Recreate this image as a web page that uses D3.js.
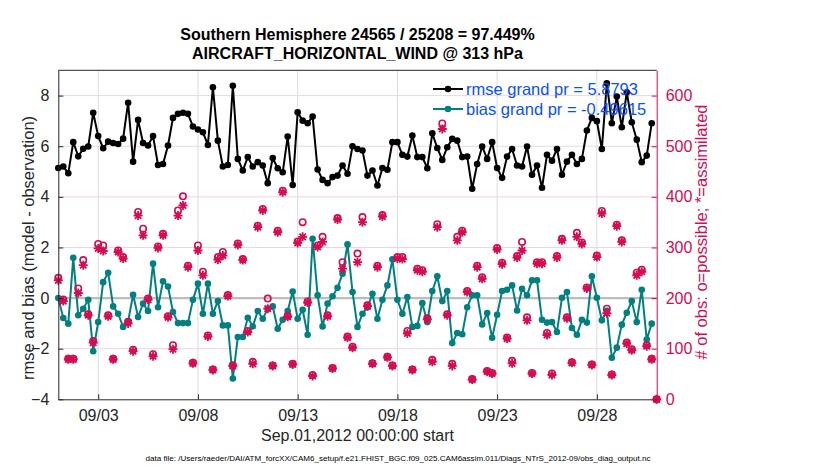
<!DOCTYPE html>
<html>
<head>
<meta charset="utf-8">
<script src="https://cdn.jsdelivr.net/npm/d3@7"></script>
<style>
  body { margin: 0; background: #fff; }
  text { font-family: "Liberation Sans", Arial, Helvetica, sans-serif; }
</style>
</head>
<body>
<div id="chart"></div>
<script>
// values, one per 6-hour bin starting Sep 01 00Z
const rmse = [
  5.14, 5.2, 4.93, 6.16, 5.6, 5.9, 5.99, 7.32, 6.4, 5.92, 6.18, 6.13, 6.09, 6.3, 7.72, 5.39,
  7.04, 6.13, 6.03, 6.4, 5.26, 5.3, 6.03, 7.12, 7.28, 7.32, 7.28, 6.78, 6.66, 6.55, 6.05, 8.33,
  6.22, 5.2, 5.26, 8.39, 5.5, 5.04, 5.57, 5.2, 5.37, 5.24, 4.54, 5.53, 5.13, 4.97, 6.38, 4.47,
  7.34, 7.01, 6.91, 7.17, 5.08, 4.67, 4.54, 4.78, 4.84, 5.24, 4.91, 6.0, 5.89, 5.83,
  4.84, 5.04, 4.45, 5.14, 5.07, 6.16, 6.16, 5.66, 5.59, 6.42, 5.57, 5.57, 5.13, 6.51, 5.93, 5.46,
  5.96, 6.29, 6.22, 5.57, 5.59, 4.32, 5.3, 5.99, 5.5, 6.16, 5.14, 4.75, 5.59, 5.89,
  5.24, 5.2, 5.99, 4.87, 5.24, 4.36, 5.66, 5.43, 5.89, 4.87, 5.39, 5.66, 5.3, 5.5, 6.62, 7.12,
  6.99, 5.89, 8.49, 6.91, 7.96, 6.75, 8.13, 6.95, 6.26, 5.37, 5.63, 6.91, null
];
const bias = [
  0.0, -0.79, -1.01, 1.59, -0.68, -0.42, -0.07, -2.1, -0.95, 0.63, 1.0, -0.33, -0.62, -1.14, -0.92, 0.13,
  -0.75, -0.22, -0.51, 1.36, -0.36, 0.66, 0.46, -0.55, -0.99, -0.99, -0.99, -0.07, 0.57, -0.62, 0.57, -0.62,
  -0.12, -1.08, -1.08, -3.18, -1.54, -1.54, -0.78, -1.12, -0.51, -0.82, -0.42, -0.33, -1.21, -0.86, -0.51, 0.26,
  -0.82, -0.46, -1.45, 2.34, 0.11, -1.12, -0.22, 0.07, 0.41, 0.96, 2.12, 0.24, -1.14, -0.62,
  -0.36, 0.17, -0.82, -0.07, 0.5, 1.53, -0.07, -0.62, 0.04, -1.14, -1.1, -0.2, -0.95, 0.28, 0.86, -0.12,
  0.28, -1.78, -1.38, -1.43, -0.36, 0.11, 0.11, -1.04, -0.59, -1.57, -0.66, 0.28, 0.33, 0.5,
  -0.49, 0.37, 0.11, 0.7, 0.7, -0.86, -0.97, -0.95, -1.34, 0.01, 0.24, -1.18, -1.45, -0.86, -0.97, 0.86,
  0.01, -0.88, -0.5, -2.36, -1.96, -1.05, -0.58, -0.12, -0.95, 0.33, -1.64, -1.01, null
];
const obsPossible = [
  240, 197, 80, 80, 219, 275, 168, 115, 307, 304, 166, 80, 294, 281, 153, 98,
  370, 337, 199, 89, 302, 327, 164, 107, 373, 401, 264, 72, 304, 252, 126, 59,
  281, 291, 206, 67, 308, 277, 135, 74, 343, 376, 199, 67, 333, 412, 165, 70,
  312, 350, 193, 48, 304, 321, 166, 62, 358, 271, 124, 104, 288, 360,
  186, 71, 264, 364, 84, 67, 281, 281, 135, 59, 258, 255, 160, 78, 346, 545,
  168, 70, 321, 333, 214, 40, 264, 241, 56, 52, 299, 270, 122, 76,
  283, 311, 162, 52, 271, 271, 131, 51, 283, 317, 162, 73, 329, 310, 221, 69,
  284, 372, 179, 49, 345, 314, 112, 99, 250, 256, 107, 80, 0
];
const obsAssim = [
  235, 194, 79, 79, 210, 265, 166, 112, 298, 293, 164, 79, 291, 278, 150, 95,
  363, 324, 197, 85, 299, 324, 162, 99, 363, 383, 261, 71, 294, 245, 124, 58,
  276, 284, 204, 66, 305, 275, 133, 70, 340, 373, 179, 66, 330, 409, 163, 69,
  309, 321, 191, 46, 301, 311, 164, 61, 355, 258, 122, 102, 271, 350,
  184, 70, 261, 361, 83, 66, 278, 277, 130, 58, 255, 252, 158, 74, 340, 534,
  166, 66, 314, 330, 212, 39, 261, 238, 55, 51, 296, 267, 120, 71,
  280, 294, 156, 51, 268, 268, 127, 48, 280, 314, 160, 72, 321, 307, 219, 68,
  281, 367, 170, 48, 342, 311, 110, 97, 245, 252, 105, 79, 0
];

const titleLines = [
  "Southern Hemisphere 24565 / 25208 = 97.449%",
  "AIRCRAFT_HORIZONTAL_WIND @ 313 hPa"
];
const dateTicks = ["2012-09-03", "2012-09-08", "2012-09-13", "2012-09-18", "2012-09-23", "2012-09-28"];
const leftTicks = [-4, -2, 0, 2, 4, 6, 8];
const rightTicks = [0, 100, 200, 300, 400, 500, 600];
const legendLabels = ["rmse grand pr = 5.8793", "bias grand pr = -0.49615"];

const pink = "#d60b52", teal = "#008080", legendBlue = "#0a50ff";

const W = 830, H = 470;
const plotL = 58.3, plotR = 656.7, plotT = 70.3, plotB = 399.3;

const svg = d3.select("#chart").append("svg")
    .attr("width", W)
    .attr("height", H);

const t0 = Date.UTC(2012, 8, 1);
const binMs = 6 * 3600 * 1000;
const times = obsPossible.map((d, i) => new Date(t0 + i * binMs));

const x = d3.scaleUtc()
    .domain([new Date(t0), new Date(Date.UTC(2012, 9, 1))])
    .range([plotL, plotR]);
const yL = d3.scaleLinear().domain([-4, 9]).range([plotB, plotT]);
const yR = d3.scaleLinear().domain([0, 650]).range([plotB, plotT]);

// grid lines
const tickDates = dateTicks.map(s => new Date(s + "T00:00:00Z"));
svg.append("g").selectAll("line")
    .data(tickDates)
    .join("line")
    .attr("x1", d => x(d)).attr("x2", d => x(d))
    .attr("y1", plotT).attr("y2", plotB)
    .attr("stroke", "#dcdcdc").attr("stroke-width", 1);

svg.append("g").selectAll("line")
    .data(rightTicks.filter(d => d > 0))
    .join("line")
    .attr("x1", plotL).attr("x2", plotR)
    .attr("y1", d => yR(d)).attr("y2", d => yR(d))
    .attr("stroke", "#f2d3df").attr("stroke-width", 1);

// zero line for the bias
svg.append("line")
    .attr("x1", plotL).attr("x2", plotR)
    .attr("y1", yL(0)).attr("y2", yL(0))
    .attr("stroke", "#bdbdbd").attr("stroke-width", 2.2);

// rmse and bias lines
const series = [
    { values: rmse, color: "#000" },
    { values: bias, color: teal }
];

series.forEach(s => {
    const pts = s.values.map((v, i) => ({ t: times[i], v })).filter(d => d.v !== null);
    const line = d3.line()
        .x(d => x(d.t))
        .y(d => yL(d.v));
    svg.append("path")
        .datum(pts)
        .attr("fill", "none")
        .attr("stroke", s.color)
        .attr("stroke-width", 2)
        .attr("d", line);
    svg.append("g").selectAll("circle")
        .data(pts)
        .join("circle")
        .attr("cx", d => x(d.t))
        .attr("cy", d => yL(d.v))
        .attr("r", 3.3)
        .attr("fill", s.color);
});

// obs counts: o = possible, * = assimilated
svg.append("g").selectAll("circle")
    .data(obsPossible.map((v, i) => ({ t: times[i], v })))
    .join("circle")
    .attr("cx", d => x(d.t))
    .attr("cy", d => yR(d.v))
    .attr("r", 3.2)
    .attr("fill", "none")
    .attr("stroke", pink)
    .attr("stroke-width", 1.6);

const star = "M-4.5,0H4.5M0,-4.5V4.5M-3.2,-3.2L3.2,3.2M-3.2,3.2L3.2,-3.2";
svg.append("g").selectAll("path")
    .data(obsAssim.map((v, i) => ({ t: times[i], v })))
    .join("path")
    .attr("transform", d => `translate(${x(d.t)},${yR(d.v)})`)
    .attr("d", star)
    .attr("stroke", pink)
    .attr("stroke-width", 1.8)
    .attr("fill", "none");

// axes
const axisBottom = svg.append("g")
    .attr("transform", `translate(0,${plotB})`)
    .call(d3.axisBottom(x).tickValues(tickDates).tickFormat(d3.utcFormat("%m/%d")).tickSizeInner(-5).tickSizeOuter(0).tickPadding(10));
axisBottom.select(".domain").attr("stroke", "#262626");
axisBottom.selectAll(".tick line").attr("stroke", "#262626");
axisBottom.selectAll("text").attr("font-size", 16).attr("fill", "#262626")
    .attr("font-family", "Liberation Sans, Arial, sans-serif");

const axisLeft = svg.append("g")
    .attr("transform", `translate(${plotL},0)`)
    .call(d3.axisLeft(yL).tickValues(leftTicks).tickSizeInner(-5).tickSizeOuter(0).tickPadding(9));
axisLeft.select(".domain").attr("stroke", "#262626");
axisLeft.selectAll(".tick line").attr("stroke", "#262626");
axisLeft.selectAll("text").attr("font-size", 16).attr("fill", "#262626")
    .attr("font-family", "Liberation Sans, Arial, sans-serif");

const axisRight = svg.append("g")
    .attr("transform", `translate(${plotR},0)`)
    .call(d3.axisRight(yR).tickValues(rightTicks).tickSizeInner(-5).tickSizeOuter(0).tickPadding(9));
axisRight.select(".domain").attr("stroke", pink);
axisRight.selectAll(".tick line").attr("stroke", pink);
axisRight.selectAll("text").attr("font-size", 16).attr("fill", pink)
    .attr("font-family", "Liberation Sans, Arial, sans-serif");

// top border
svg.append("line")
    .attr("x1", plotL).attr("x2", plotR)
    .attr("y1", plotT).attr("y2", plotT)
    .attr("stroke", "#262626");

// titles and labels
svg.append("g").selectAll("text")
    .data(titleLines)
    .join("text")
    .attr("x", (plotL + plotR) / 2)
    .attr("y", (d, i) => 40 + i * 18.5)
    .attr("text-anchor", "middle")
    .attr("font-size", 16)
    .attr("font-weight", "bold")
    .attr("fill", "#000")
    .text(d => d);

svg.append("text")
    .attr("transform", "translate(34,248) rotate(-90)")
    .attr("text-anchor", "middle")
    .attr("font-size", 16.5)
    .attr("fill", "#262626")
    .text("rmse and bias (model - observation)");

svg.append("text")
    .attr("transform", "translate(707,232) rotate(-90)")
    .attr("text-anchor", "middle")
    .attr("font-size", 16.5)
    .attr("fill", pink)
    .text("# of obs: o=possible; *=assimilated");

svg.append("text")
    .attr("x", (plotL + plotR) / 2)
    .attr("y", 441)
    .attr("text-anchor", "middle")
    .attr("font-size", 16)
    .attr("fill", "#262626")
    .text("Sep.01,2012 00:00:00 start");

svg.append("text")
    .attr("x", 398)
    .attr("y", 461)
    .attr("text-anchor", "middle")
    .attr("font-size", 8)
    .attr("textLength", 505)
    .attr("lengthAdjust", "spacingAndGlyphs")
    .attr("fill", "#000")
    .text("data file: /Users/raeder/DAI/ATM_forcXX/CAM6_setup/f.e21.FHIST_BGC.f09_025.CAM6assim.011/Diags_NTrS_2012-09/obs_diag_output.nc");

// legend
const legend = svg.append("g").selectAll("g")
    .data(legendLabels)
    .join("g")
    .attr("transform", (d, i) => `translate(433,${89 + i * 20})`);
legend.append("line")
    .attr("x1", 0).attr("x2", 30)
    .attr("stroke", (d, i) => series[i].color)
    .attr("stroke-width", 2);
legend.append("circle")
    .attr("cx", 15).attr("r", 3.3)
    .attr("fill", (d, i) => series[i].color);
legend.append("text")
    .attr("x", 33)
    .attr("y", 6)
    .attr("font-size", 16.5)
    .attr("fill", legendBlue)
    .text(d => d);
</script>
</body>
</html>
